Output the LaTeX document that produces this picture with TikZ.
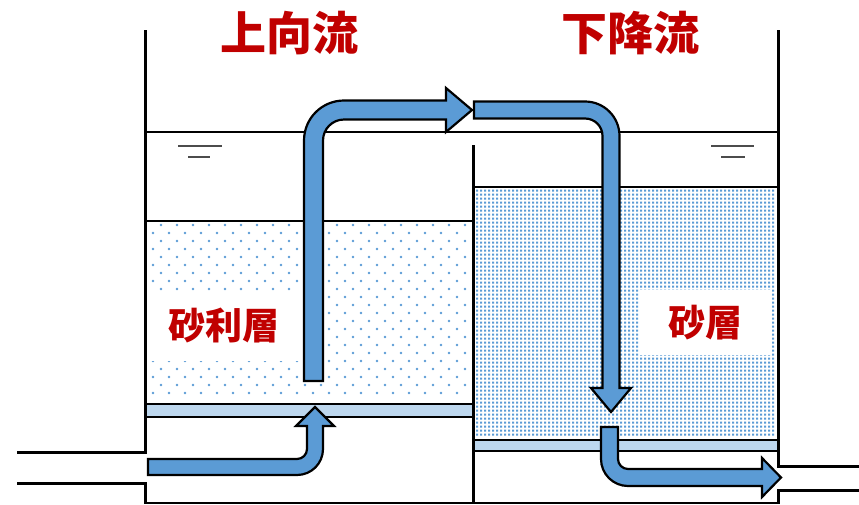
\documentclass[tikz,border=0pt]{standalone}
\usepackage{fontspec}
\newfontfamily\jpfont{Noto Sans CJK JP}

\definecolor{flowblue}{HTML}{5B9BD5}
\definecolor{bandblue}{HTML}{BDD7EE}
\definecolor{titlered}{HTML}{C00000}

\tikzset{
  wall/.style={line width=3pt},
  layer/.style={line width=2pt},
  level/.style={line width=1.5pt, draw=black!70},
  flow/.style={fill=flowblue, draw=black, line width=2.2pt, line join=miter},
  title/.style={text=titlered, font=\jpfont\bfseries\fontsize{46}{46}\selectfont},
  tag/.style={fill=white, text=titlered, inner sep=0pt,
    font=\jpfont\bfseries\fontsize{37}{37}\selectfont},
}

\begin{document}
\begin{tikzpicture}[x=1pt, y=-1pt]
    \useasboundingbox (0,0) rectangle (859,504);

    % water surface and level marks
    \draw[line width=1.2pt] (145,132) -- (778,132);
    \draw[level] (178,146) -- (222,146) (188,157) -- (210,157);
    \draw[level] (711,146) -- (754,146) (721,157) -- (745,157);

    % support plates under the media
    \fill[bandblue] (145,404) rectangle (473,417);
    \fill[bandblue] (473,440) rectangle (778,451);

    % gravel (sparse) and sand (dense)
    \foreach \r in {0,...,21}
      \foreach \c in {0,...,19}
        \fill[flowblue] ({161-8*mod(\r,2)+16*\c},{225+8*\r}) circle (1.4);
    \fill[flowblue] \foreach \i in {0,...,74} { \foreach \j in {0,...,61} {
        ({476+4*\i},{189.5+4*\j}) rectangle ++(2,2) } };

    \node[tag, minimum width=152pt, minimum height=70pt] (gravel) at (224,326) {砂利層};
    \node[tag, minimum width=131pt, minimum height=65pt] (sand) at (705.5,322.5) {砂層};

    \draw[layer] (145,221) -- (473,221) (145,404) -- (473,404) (145,417) -- (473,417);
    \draw[layer] (473,187) -- (778,187) (473,440) -- (778,440) (473,451) -- (778,451);

    % tank walls, inlet and outlet
    \draw[wall] (145,30) -- (145,452.5) -- (17,452.5);
    \draw[wall] (17,483) -- (145,483) -- (145,504);
    \draw[wall] (473,145) -- (473,504);
    \draw[wall] (778,30) -- (778,466) -- (859,466);
    \draw[wall] (859,490) -- (778,490) -- (778,504);
    \draw[layer] (145,502.5) -- (778,502.5);

    % flow arrows
    \draw[flow] (148,459) -- (297,459) .. controls (302.5,459) and (307,454.5) .. (307,449)
      -- (307,426) -- (296,426) -- (315,407) -- (334,426) -- (323,426) -- (323,449)
      .. controls (323,463.4) and (311.4,475) .. (297,475) -- (148,475) -- cycle;
    \draw[flow] (304,381) -- (304,140.5) .. controls (304,118.4) and (321.9,100.5) .. (344,100.5)
      -- (446,100.5) -- (446,88) -- (472,110) -- (446,132) -- (446,119.5) -- (344,119.5)
      .. controls (332.4,119.5) and (323,128.9) .. (323,140.5) -- (323,381) -- cycle;
    \draw[flow] (474,101.5) -- (585,101.5) .. controls (604.1,101.5) and (619.5,117) .. (619.5,136)
      -- (619.5,388) -- (631,388) -- (611,412) -- (591,388) -- (602.5,388) -- (602.5,136)
      .. controls (602.5,126.3) and (594.7,118.5) .. (585,118.5) -- (474,118.5) -- cycle;
    \draw[flow] (601,427) -- (601,459) .. controls (601,473.9) and (613.1,486) .. (628,486)
      -- (762,486) -- (762,497) -- (781,477.5) -- (762,458) -- (762,469) -- (628,469)
      .. controls (622.5,469) and (618,464.5) .. (618,459) -- (618,427) -- cycle;

    \node[title] (upflow) at (289,33) {上向流};
    \node[title] (downflow) at (630,33) {下降流};
\end{tikzpicture}
\end{document}
